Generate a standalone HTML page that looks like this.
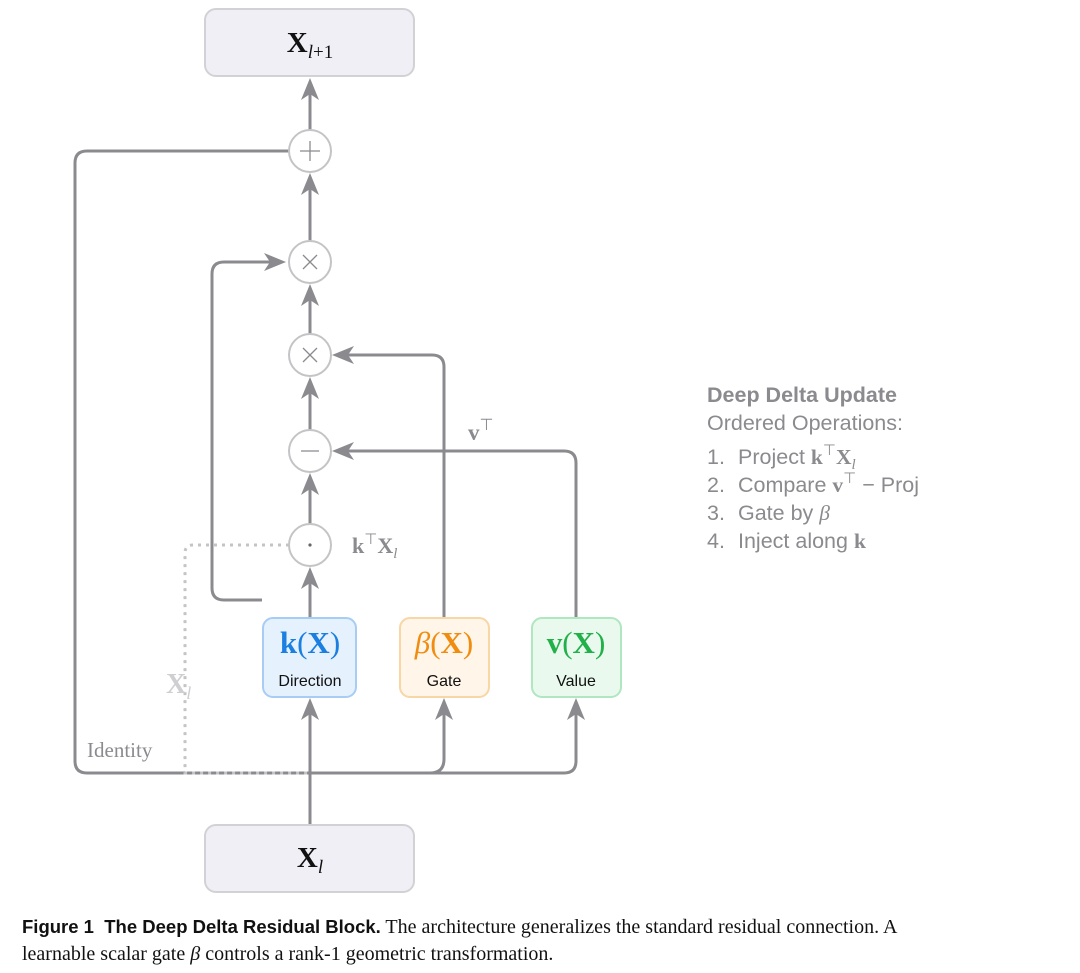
<!DOCTYPE html>
<html><head><meta charset="utf-8"><style>
html,body{margin:0;padding:0;background:#fff;}
body{width:1080px;height:973px;position:relative;overflow:hidden;}
svg{position:absolute;left:0;top:0;}
.cap{position:absolute;left:22px;top:913px;font-family:"Liberation Serif",serif;font-size:20px;color:#111;line-height:27px;width:1060px;white-space:nowrap;}
.cap b{font-family:"Liberation Sans",sans-serif;font-weight:bold;font-size:18.5px;}
</style></head><body>
<svg width="1080" height="973" viewBox="0 0 1080 973" xmlns="http://www.w3.org/2000/svg">
<g fill="none" stroke="#8b8b8f" stroke-width="3" stroke-linecap="butt">
<line x1="310" y1="825" x2="310" y2="705"/>
<line x1="310" y1="617" x2="310" y2="572"/>
<line x1="310" y1="524" x2="310" y2="478"/>
<line x1="310" y1="430" x2="310" y2="382"/>
<line x1="310" y1="334" x2="310" y2="289"/>
<line x1="310" y1="241" x2="310" y2="178"/>
<line x1="310" y1="130" x2="310" y2="84"/>
<path d="M289 151 H87 Q75 151 75 163 V761 Q75 773 87 773 H564 Q576 773 576 761 V705"/>
<path d="M430 773 Q444 773 444 759 V705"/>
<path d="M262 600 H224 Q212 600 212 588 V274 Q212 262 224 262 H280"/>
<path d="M444 617 V367 Q444 355 432 355 H340"/>
<path d="M576 617 V463 Q576 451 564 451 H340"/>
</g>
<g fill="#8b8b8f">
<path d="M310 698 l-9 22 l9 -6 l9 6 z"/>
<path d="M444 698 l-9 22 l9 -6 l9 6 z"/>
<path d="M576 698 l-9 22 l9 -6 l9 6 z"/>
<path d="M310 567 l-9 22 l9 -6 l9 6 z"/>
<path d="M310 473 l-9 22 l9 -6 l9 6 z"/>
<path d="M310 377 l-9 22 l9 -6 l9 6 z"/>
<path d="M310 284 l-9 22 l9 -6 l9 6 z"/>
<path d="M310 173 l-9 22 l9 -6 l9 6 z"/>
<path d="M310 78 l-9 22 l9 -6 l9 6 z"/>
<path d="M286 262 l-22 -9 l6 9 l-6 9 z"/>
<path d="M332 355 l22 -9 l-6 9 l6 9 z"/>
<path d="M332 451 l22 -9 l-6 9 l6 9 z"/>
</g>
<path d="M289 545 H193 Q185 545 185 553 V773 H310" fill="none" stroke="#c4c4c6" stroke-width="3" stroke-dasharray="3 5"/>
<g fill="#fff" stroke="#c4c4c6" stroke-width="2">
<circle cx="310" cy="151" r="21"/>
<circle cx="310" cy="262" r="21"/>
<circle cx="310" cy="355" r="21"/>
<circle cx="310" cy="451" r="21"/>
<circle cx="310" cy="545" r="21"/>
</g>
<g stroke="#8b8b8f" stroke-width="1.3" fill="none">
<path d="M300 151 H320 M310 141 V161"/>
<path d="M303 255 L317 269 M317 255 L303 269"/>
<path d="M303 348 L317 362 M317 348 L303 362"/>
<path d="M301 451 H319"/>
</g>
<circle cx="310" cy="545" r="1.6" fill="#666"/>
<rect x="205" y="9" width="209" height="67" rx="11" fill="#f0eff5" stroke="#d2d2d6" stroke-width="2"/>
<rect x="205" y="825" width="209" height="67" rx="11" fill="#f0eff5" stroke="#d2d2d6" stroke-width="2"/>
<rect x="263" y="618" width="93" height="79" rx="10" fill="#e6f1fe" stroke="#a7cdf5" stroke-width="2"/>
<rect x="400" y="618" width="89" height="79" rx="10" fill="#fff5e8" stroke="#f8d6a5" stroke-width="2"/>
<rect x="532" y="618" width="89" height="79" rx="10" fill="#e9f9ee" stroke="#b0e6c0" stroke-width="2"/>
<g font-family="Liberation Serif, serif">
<text x="310" y="52" text-anchor="middle" font-size="29" font-weight="bold" fill="#111">X<tspan font-size="19" font-weight="normal" font-style="italic" dy="6">l</tspan><tspan font-size="19" font-weight="normal">+1</tspan></text>
<text x="310" y="867" text-anchor="middle" font-size="29" font-weight="bold" fill="#111">X<tspan font-size="19" font-weight="normal" font-style="italic" dy="6">l</tspan></text>
<text x="310" y="653" text-anchor="middle" font-size="31" fill="#1a7fe0"><tspan font-weight="bold">k</tspan>(<tspan font-weight="bold">X</tspan>)</text>
<text x="444" y="653" text-anchor="middle" font-size="31" fill="#f08c10"><tspan font-style="italic">β</tspan>(<tspan font-weight="bold">X</tspan>)</text>
<text x="576" y="653" text-anchor="middle" font-size="31" fill="#22b04a"><tspan font-weight="bold">v</tspan>(<tspan font-weight="bold">X</tspan>)</text>
<text x="352" y="553" font-size="22" font-weight="bold" fill="#8b8b8f">k<tspan font-size="15" font-weight="normal" dy="-9">⊤</tspan><tspan dy="9">X</tspan><tspan font-size="15" font-weight="normal" font-style="italic" dy="5">l</tspan></text>
<text x="468" y="440" font-size="23" font-weight="bold" fill="#8b8b8f">v<tspan font-size="16" font-weight="normal" dy="-10">⊤</tspan></text>
<text x="166" y="693" font-size="28" font-weight="bold" fill="#cfcfd2">X<tspan font-size="18" font-weight="normal" font-style="italic" dy="6">l</tspan></text>
<text x="87" y="757" font-size="21" fill="#8b8b8f">Identity</text>
</g>
<g font-family="Liberation Sans, sans-serif" font-size="16" fill="#111" text-anchor="middle">
<text x="310" y="686">Direction</text>
<text x="444" y="686">Gate</text>
<text x="576" y="686">Value</text>
</g>
<g font-family="Liberation Sans, sans-serif" font-size="21.5" fill="#8b8b8f">
<text x="707" y="402" font-weight="bold">Deep Delta Update</text>
<text x="707" y="430">Ordered Operations:</text>
<text x="707" y="464">1.</text><text x="738" y="464">Project <tspan font-family="Liberation Serif, serif" font-weight="bold">k</tspan><tspan font-family="Liberation Serif, serif" font-size="15" dy="-9">⊤</tspan><tspan font-family="Liberation Serif, serif" font-weight="bold" dy="9">X</tspan><tspan font-family="Liberation Serif, serif" font-style="italic" font-size="15" dy="5">l</tspan></text>
<text x="707" y="492">2.</text><text x="738" y="492">Compare <tspan font-family="Liberation Serif, serif" font-weight="bold">v</tspan><tspan font-family="Liberation Serif, serif" font-size="15" dy="-9">⊤</tspan><tspan dy="9"> − Proj</tspan></text>
<text x="707" y="520">3.</text><text x="738" y="520">Gate by <tspan font-family="Liberation Serif, serif" font-style="italic">β</tspan></text>
<text x="707" y="548">4.</text><text x="738" y="548">Inject along <tspan font-family="Liberation Serif, serif" font-weight="bold">k</tspan></text>
</g>
</svg>
<div class="cap"><b>Figure 1&nbsp; The Deep Delta Residual Block.</b> The architecture generalizes the standard residual connection. A<br>learnable scalar gate <i>β</i> controls a rank-1 geometric transformation.</div>
</body></html>
